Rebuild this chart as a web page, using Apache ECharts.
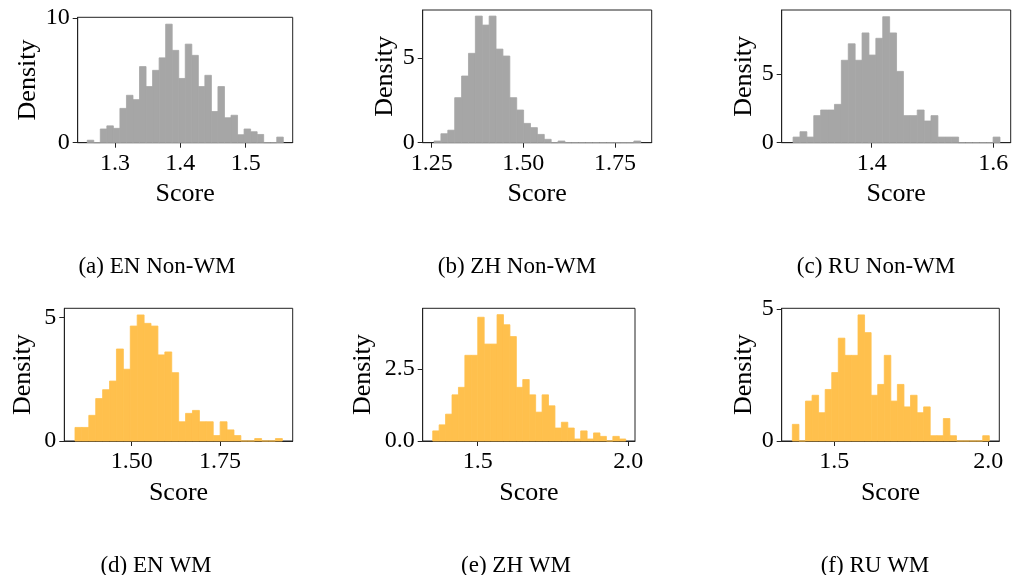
<!DOCTYPE html>
<html lang="en">

<head>
    <meta charset="UTF-8">
    <title>Score histograms</title>
    <script src="https://cdn.jsdelivr.net/npm/echarts@6.0.0/dist/echarts.min.js"></script>
    <style>
        body { margin: 0; background: #fff; }
        #main { width: 1013px; height: 575px; }
    </style>
</head>

<body>
    <div id="main"></div>
    <script>
        // histogram data (30 bins each), density per bin
        const aStart = 1.2576, aWidth = 0.01;
        const aDensity = [0.2, 0, 1.1, 1.35, 1.15, 2.75, 3.8, 3.45, 6.1, 4.5, 5.8, 6.8, 9.5, 7.4, 5.15, 7.9, 7.0, 4.5, 5.4, 2.5, 4.5, 2.0, 2.2, 0.64, 1.1, 0.88, 0.66, 0, 0, 0.45];
        const bStart = 1.2564, bWidth = 0.01879;
        const bDensity = [0.1, 0.53, 0.74, 2.66, 3.94, 5.28, 7.48, 6.95, 7.48, 5.53, 5.12, 2.66, 1.93, 1.14, 0.89, 0.49, 0.2, 0, 0.1, 0, 0, 0, 0, 0, 0, 0, 0, 0, 0, 0.1];
        const cStart = 1.2707, cWidth = 0.01134;
        const cDensity = [0.41, 0.8, 0.41, 1.97, 2.38, 2.38, 2.79, 6.0, 7.2, 6.0, 7.99, 6.38, 7.6, 9.17, 7.99, 5.19, 1.97, 1.97, 2.38, 1.58, 1.97, 0.41, 0.41, 0.41, 0, 0, 0, 0, 0, 0.41];
        const dStart = 1.3396, dWidth = 0.01956;
        const dDensity = [0.55, 0.55, 1.04, 1.72, 2.08, 2.43, 3.73, 2.91, 4.66, 5.11, 4.77, 4.66, 3.49, 3.61, 2.77, 0.78, 1.12, 1.24, 0.78, 0.78, 0.22, 0.78, 0.45, 0.22, 0, 0, 0.1, 0, 0, 0.1];
        const eStart = 1.3507, eWidth = 0.02135;
        const eDensity = [0.35, 0.56, 0.93, 1.6, 1.86, 2.97, 2.97, 4.29, 3.36, 3.36, 4.38, 4.03, 3.62, 1.86, 2.13, 1.6, 1.0, 1.6, 1.22, 0.45, 0.65, 0.45, 0.07, 0.35, 0.07, 0.28, 0.16, 0, 0.16, 0.07];
        const fStart = 1.3636, fWidth = 0.02132;
        const fDensity = [0.63, 0, 1.51, 1.73, 1.07, 1.95, 2.59, 3.89, 3.24, 3.24, 4.77, 4.1, 1.73, 2.14, 3.24, 1.51, 2.14, 1.29, 1.73, 1.07, 1.29, 0.2, 0.2, 0.85, 0.2, 0, 0, 0, 0, 0.2];

        // tick labels
        const aXTicks = [1.3, 1.4, 1.5], aYTicks = [0, 10];
        const bXTicks = [1.25, 1.5, 1.75], bYTicks = [0, 5];
        const cXTicks = [1.4, 1.6], cYTicks = [0, 5];
        const dXTicks = [1.5, 1.75], dYTicks = [0, 5];
        const eXTicks = [1.5, 2.0], eYTicks = [0, 2.5];
        const fXTicks = [1.5, 2.0], fYTicks = [0, 5];

        const captions = ['(a) EN Non-WM', '(b) ZH Non-WM', '(c) RU Non-WM', '(d) EN WM', '(e) ZH WM', '(f) RU WM'];

        const gray = '#a6a6a6';
        const orange = '#ffc04d';
        const font = '"Liberation Serif", "DejaVu Serif", serif';

        const panels = [
            { start: aStart, width: aWidth, dens: aDensity, xt: aXTicks, yt: aYTicks, xd: 1, yd: 0, xr: [1.243, 1.572], yMax: 10.05, color: gray,
              grid: { left: 77.7, top: 17.3, width: 215, height: 125.4 }, yGap: 37, cap: [152, 250] },
            { start: bStart, width: bWidth, dens: bDensity, xt: bXTicks, yt: bYTicks, xd: 2, yd: 0, xr: [1.2255, 1.85], yMax: 7.84, color: gray,
              grid: { left: 422.7, top: 10, width: 229, height: 132.7 }, yGap: 25, cap: [512, 250] },
            { start: cStart, width: cWidth, dens: cDensity, xt: cXTicks, yt: cYTicks, xd: 1, yd: 0, xr: [1.252, 1.6285], yMax: 9.66, color: gray,
              grid: { left: 781.7, top: 10, width: 229, height: 132.7 }, yGap: 25, cap: [871, 250] },
            { start: dStart, width: dWidth, dens: dDensity, xt: dXTicks, yt: dYTicks, xd: 2, yd: 0, xr: [1.3094, 1.9557], yMax: 5.38, color: orange,
              grid: { left: 64.3, top: 308.3, width: 228.4, height: 132.7 }, yGap: 28, cap: [151, 549] },
            { start: eStart, width: eWidth, dens: eDensity, xt: eXTicks, yt: eYTicks, xd: 1, yd: 1, xr: [1.3175, 2.022], yMax: 4.6, color: orange,
              grid: { left: 422.7, top: 308.3, width: 212.3, height: 132.7 }, yGap: 47, cap: [511, 549] },
            { start: fStart, width: fWidth, dens: fDensity, xt: fXTicks, yt: fYTicks, xd: 1, yd: 0, xr: [1.329, 2.0357], yMax: 5.02, color: orange,
              grid: { left: 781.7, top: 308.3, width: 217.6, height: 132.7 }, yGap: 25, cap: [870, 549] }
        ];

        const grids = [], xAxes = [], yAxes = [], series = [], titles = [];
        const lineStyle = { color: '#222', width: 1 };

        panels.forEach((p, i) => {
            grids.push(Object.assign({ show: true, borderColor: '#222', borderWidth: 1, containLabel: false }, p.grid));
            xAxes.push({
                type: 'value', gridIndex: i, min: p.xr[0], max: p.xr[1],
                name: 'Score', nameLocation: 'middle', nameGap: i < 3 ? 38 : 39,
                nameTextStyle: { fontFamily: font, fontSize: 26, color: '#000' },
                axisLine: { show: true, onZero: false, lineStyle: lineStyle },
                axisTick: { show: true, inside: false, length: 5, lineStyle: lineStyle, customValues: p.xt },
                axisLabel: { fontFamily: font, fontSize: 24, color: '#000', margin: 9, customValues: p.xt,
                    formatter: v => v.toFixed(p.xd) },
                splitLine: { show: false }
            });
            yAxes.push({
                type: 'value', gridIndex: i, min: 0, max: p.yMax,
                name: 'Density', nameLocation: 'middle', nameGap: p.yGap,
                nameTextStyle: { fontFamily: font, fontSize: 26, color: '#000' },
                axisLine: { show: true, lineStyle: lineStyle },
                axisTick: { show: true, inside: false, length: 5, lineStyle: lineStyle, customValues: p.yt },
                axisLabel: { fontFamily: font, fontSize: 24, color: '#000', margin: 8, customValues: p.yt,
                    formatter: v => v.toFixed(p.yd) },
                splitLine: { show: false }
            });
            series.push({
                type: 'custom', xAxisIndex: i, yAxisIndex: i,
                data: p.dens.map((d, k) => [p.start + k * p.width, p.start + (k + 1) * p.width, d]),
                renderItem: (params, api) => {
                    const p0 = api.coord([api.value(0), api.value(2)]);
                    const p1 = api.coord([api.value(1), 0]);
                    return {
                        type: 'rect',
                        shape: { x: p0[0], y: p0[1], width: p1[0] - p0[0], height: p1[1] - p0[1] },
                        style: { fill: p.color, stroke: p.color, lineWidth: 0.8 }
                    };
                },
                silent: true
            });
            titles.push({
                text: captions[i], left: p.cap[0], top: p.cap[1], textAlign: 'center',
                textStyle: { fontFamily: font, fontSize: 23, fontWeight: 'normal', color: '#000' }
            });
        });

        const chart = echarts.init(document.getElementById('main'), null, { renderer: 'canvas' });
        chart.setOption({
            animation: false,
            title: titles,
            grid: grids,
            xAxis: xAxes,
            yAxis: yAxes,
            series: series
        });
    </script>
</body>

</html>
